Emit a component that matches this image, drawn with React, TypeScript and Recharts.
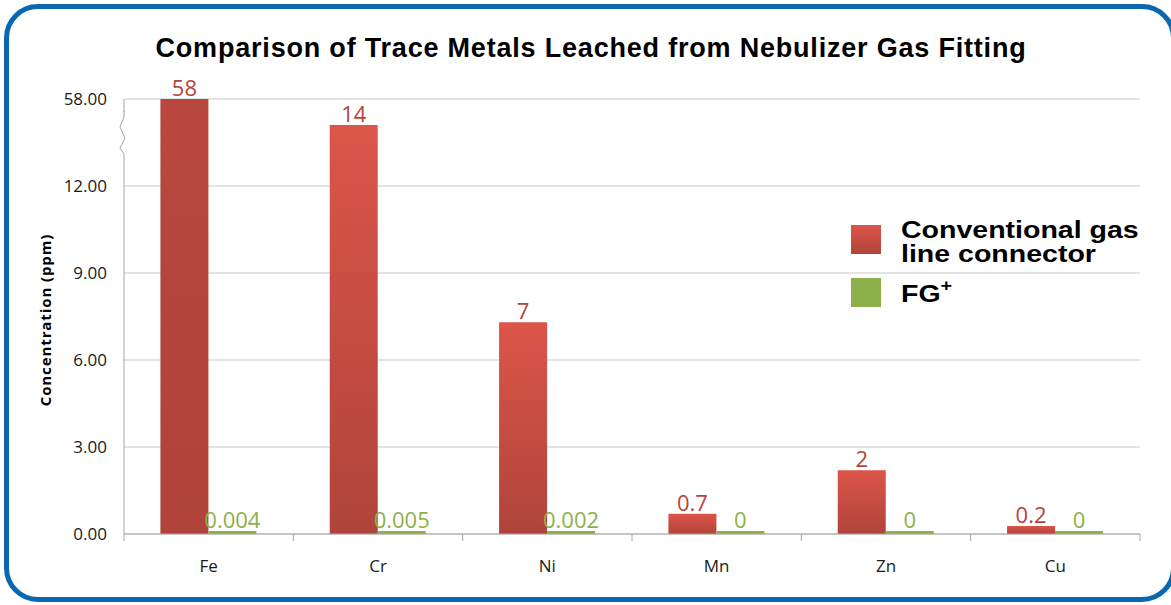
import { BarChart, Bar, XAxis, YAxis, CartesianGrid, LabelList, Cell } from 'recharts';

const metals = ['Fe', 'Cr', 'Ni', 'Mn', 'Zn', 'Cu'];
// plotted heights on the broken axis (Fe runs off the break at 58)
const conventionalPlotted = [15, 14.1, 7.3, 0.7, 2.2, 0.28];
const conventionalLabels = ['58', '14', '7', '0.7', '2', '0.2'];
const fgValues = [0.004, 0.005, 0.002, 0, 0, 0];
const yTicks = [0, 3, 6, 9, 12, 15];
const yTickLabels = ['0.00', '3.00', '6.00', '9.00', '12.00', '58.00'];

const data = metals.map((m, i) => ({
  metal: m,
  conventional: conventionalPlotted[i],
  convLabel: conventionalLabels[i],
  fg: fgValues[i],
}));

const RED = '#b5443c';
const GREEN = '#8db04a';

const CategoryTick = (props: any) => {
  const { x, y, payload, index } = props;
  const off = payload?.offset ?? 0;
  return (
    <g>
      <line x1={x - off} y1={y - 8} x2={x - off} y2={y - 1} stroke="#a6a6a6" />
      {index === metals.length - 1 && (
        <line x1={x + off} y1={y - 8} x2={x + off} y2={y - 1} stroke="#a6a6a6" />
      )}
      <text x={x} y={y + 30} textAnchor="middle" fontSize={17} fill="#1a1a1a" fontFamily="Open Sans">
        {payload.value}
      </text>
    </g>
  );
};

const legendText = {
  position: 'absolute' as const,
  fontFamily: '"Liberation Sans", Arial',
  fontWeight: 'bold',
  fontSize: 23,
  lineHeight: '22px',
  height: 22,
  color: '#000',
  whiteSpace: 'nowrap' as const,
  transform: 'scaleX(1.24)',
  transformOrigin: 'left top',
};

const LegendBox = () => (
  <div style={{ position: 'absolute', left: 0, top: 0 }}>
    <div style={{ position: 'absolute', left: 851, top: 225, width: 30, height: 29, background: 'linear-gradient(#dc5549, #b0443a)' }} />
    <div style={{ ...legendText, left: 901, top: 219 }}>Conventional gas</div>
    <div style={{ ...legendText, left: 901, top: 243 }}>line connector</div>
    <div style={{ position: 'absolute', left: 851, top: 278, width: 30, height: 29, background: GREEN }} />
    <div style={{ ...legendText, left: 901, top: 283 }}>
      FG<sup style={{ fontSize: 16, verticalAlign: 'top', lineHeight: '12px', position: 'relative', top: -3 }}>+</sup>
    </div>
  </div>
);

export default function App() {
  return (
    <div style={{ position: 'absolute', left: 0, top: 0, width: 1171, height: 605, overflow: 'hidden', background: '#fff' }}>
      <div
        style={{
          position: 'absolute',
          left: 4,
          top: 4,
          width: 1172,
          height: 598,
          boxSizing: 'border-box',
          border: '5px solid #0a67b1',
          borderRadius: 34,
        }}
      />
      <div
        style={{
          position: 'absolute',
          left: 0,
          top: 33,
          width: 1182,
          textAlign: 'center',
          fontFamily: '"Liberation Sans", Arial',
          fontWeight: 'bold',
          fontSize: 27,
          letterSpacing: 0.8,
          color: '#000',
        }}
      >
        Comparison of Trace Metals Leached from Nebulizer Gas Fitting
      </div>
      <div
        style={{
          position: 'absolute',
          left: 45,
          top: 320,
          transform: 'translate(-50%, -50%) rotate(-90deg)',
          whiteSpace: 'nowrap',
          fontFamily: '"Open Sans"',
          fontWeight: 'bold',
          fontSize: 15,
          letterSpacing: 0.9,
          color: '#000',
        }}
      >
        Concentration (ppm)
      </div>
      <div style={{ position: 'absolute', left: 0, top: 0 }}>
        <BarChart
          width={1171}
          height={605}
          data={data}
          margin={{ top: 99, right: 31, bottom: 0, left: 64 }}
          barCategoryGap="21.5%"
          barGap={0}
        >
          <defs>
            <linearGradient id="redGrad" x1="0" y1="0" x2="0" y2="1">
              <stop offset="0%" stopColor="#dc5549" />
              <stop offset="100%" stopColor="#b0443a" />
            </linearGradient>
            <linearGradient id="redGradDark" x1="0" y1="0" x2="0" y2="1">
              <stop offset="0%" stopColor="#b9473e" />
              <stop offset="100%" stopColor="#b0433a" />
            </linearGradient>
          </defs>
          <CartesianGrid vertical={false} stroke="#c9c9c9" />
          <XAxis
            dataKey="metal"
            axisLine={{ stroke: '#a6a6a6' }}
            tickLine={false}
            tick={<CategoryTick />}
            interval={0}
            height={71}
          />
          <YAxis
            domain={[0, 15]}
            ticks={yTicks}
            width={60}
            axisLine={{ stroke: '#a6a6a6' }}
            tickLine={false}
            tickSize={0}
            tickMargin={17}
            tick={{ fontSize: 17, fill: '#1a1a1a', fontFamily: 'Open Sans' }}
            tickFormatter={(v: number) => yTickLabels[yTicks.indexOf(v)] ?? String(v)}
          />
          <Bar dataKey="conventional" fill="url(#redGrad)" isAnimationActive={false}>
            {data.map((d, i) => (
              <Cell key={d.metal} fill={i === 0 ? 'url(#redGradDark)' : 'url(#redGrad)'} />
            ))}
            <LabelList
              dataKey="convLabel"
              position="top"
              offset={3}
              style={{ fontSize: 22, fill: RED, fontFamily: 'Open Sans' }}
            />
          </Bar>
          <Bar dataKey="fg" fill={GREEN} minPointSize={3} isAnimationActive={false}>
            <LabelList
              dataKey="fg"
              position="top"
              offset={3}
              formatter={(v: any) => String(v)}
              style={{ fontSize: 22, fill: GREEN, fontFamily: 'Open Sans' }}
            />
          </Bar>
        </BarChart>
      </div>
      <LegendBox />
      <svg width={1171} height={605} style={{ position: 'absolute', left: 0, top: 0, pointerEvents: 'none' }}>
        <rect x={118} y={112} width={10} height={42} fill="#fff" />
        <polyline
          points="124,111 124,117 120,127 125,138 120,148 124,154"
          fill="none"
          stroke="#a6a6a6"
          strokeWidth={1}
        />
      </svg>
    </div>
  );
}
